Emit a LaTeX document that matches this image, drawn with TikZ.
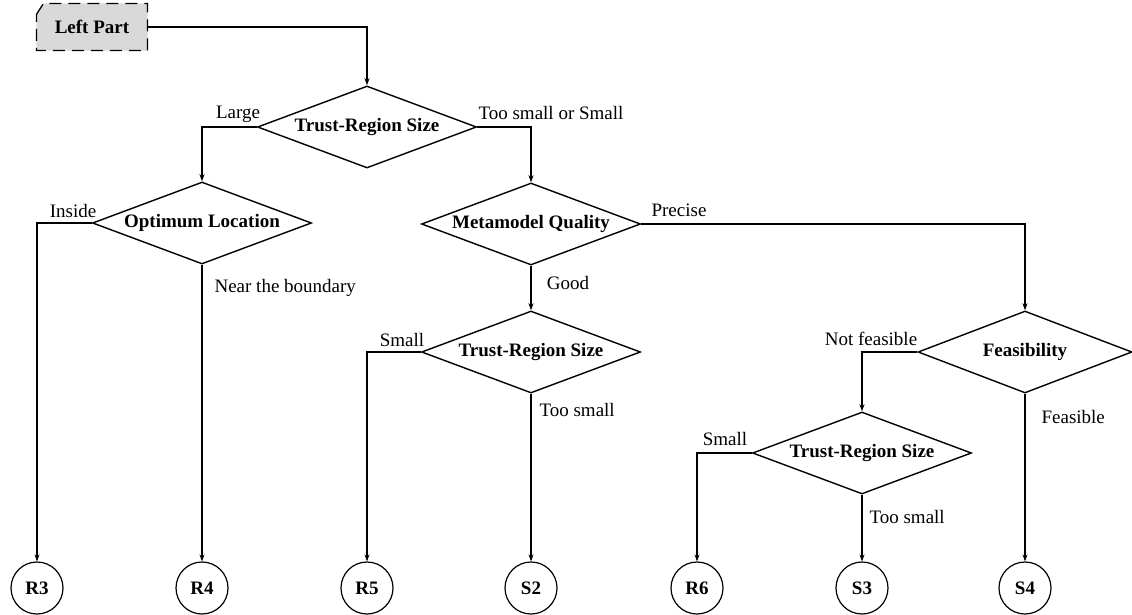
\documentclass[tikz,border=0pt]{standalone}
\usepackage{fontspec}
\setmainfont{Liberation Serif}
\usetikzlibrary{shapes.geometric,arrows.meta}
\definecolor{boxgray}{HTML}{D9D9D9}
\begin{document}
\begin{tikzpicture}[x=1pt,y=-1pt, line width=1.1pt,
  dec/.style={diamond, aspect=2.67, draw, line width=1.4pt, minimum width=219pt, minimum height=82pt, inner sep=0pt, font=\bfseries\fontsize{19}{22}\selectfont},
  term/.style={circle, draw, line width=1.2pt, minimum size=52pt, inner sep=0pt, font=\bfseries\fontsize{19}{22}\selectfont},
  lbl/.style={font=\fontsize{19}{22}\selectfont, inner sep=0pt},
  arr/.style={-{Stealth[length=7pt,width=5pt]}, line width=1.1pt}]
\useasboundingbox (0,0) rectangle (1132,615);

% start box
\node[minimum width=110pt, minimum height=46pt, inner sep=0pt, font=\bfseries\fontsize{19}{22}\selectfont] (lp) at (92,27) {};
\draw[fill=boxgray, line width=1.3pt, dash pattern=on 12pt off 7pt]
  ([yshift=-11pt]lp.north west) -- ([xshift=7pt]lp.north west) -- (lp.north east)
  -- (lp.south east) -- (lp.south west) -- cycle;
\node[font=\bfseries\fontsize{19}{22}\selectfont, inner sep=0pt] (lpt) at (lp.center) {Left Part};

% decisions
\node[dec] (d1) at (367,127) {Trust-Region Size};
\node[dec] (d2) at (202,223) {Optimum Location};
\node[dec] (d3) at (531,224) {Metamodel Quality};
\node[dec] (d4) at (531,352) {Trust-Region Size};
\node[dec, minimum width=214pt] (d5) at (1025,352) {Feasibility};
\node[dec] (d6) at (862,453) {Trust-Region Size};

% terminals
\node[term] (R3) at (37,588) {R3};
\node[term] (R4) at (202,588) {R4};
\node[term] (R5) at (367,588) {R5};
\node[term] (S2) at (531,588) {S2};
\node[term] (R6) at (697,588) {R6};
\node[term] (S3) at (862,588) {S3};
\node[term] (S4) at (1025,588) {S4};

% connectors
\draw[arr] (lp.east) -| (d1.north);
\draw[arr] (d1.west) -| (d2.north);
\draw[arr] (d1.east) -| (d3.north);
\draw[arr] (d2.west) -| (R3.north);
\draw[arr] (d2.south) -- (R4.north);
\draw[arr] (d3.east) -| (d5.north);
\draw[arr] (d3.south) -- (d4.north);
\draw[arr] (d4.west) -| (R5.north);
\draw[arr] (d4.south) -- (S2.north);
\draw[arr] (d5.west) -| (d6.north);
\draw[arr] (d5.south) -- (S4.north);
\draw[arr] (d6.west) -| (R6.north);
\draw[arr] (d6.south) -- (S3.north);

% labels
\node[lbl] (l1) at (238,114) {Large};
\node[lbl] (l2) at (551,113) {Too small or Small};
\node[lbl] (l3) at (73,211) {Inside};
\node[lbl, anchor=west] (l4) at (214,288) {Near the boundary};
\node[lbl] (l5) at (679,210) {Precise};
\node[lbl] (l6) at (568,283) {Good};
\node[lbl] (l7) at (402,340) {Small};
\node[lbl, anchor=west] (l8) at (539,410) {Too small};
\node[lbl] (l9) at (871,339) {Not feasible};
\node[lbl, anchor=west] (l10) at (1041,417) {Feasible};
\node[lbl] (l11) at (725,439) {Small};
\node[lbl, anchor=west] (l12) at (869,517) {Too small};
\end{tikzpicture}
\end{document}
